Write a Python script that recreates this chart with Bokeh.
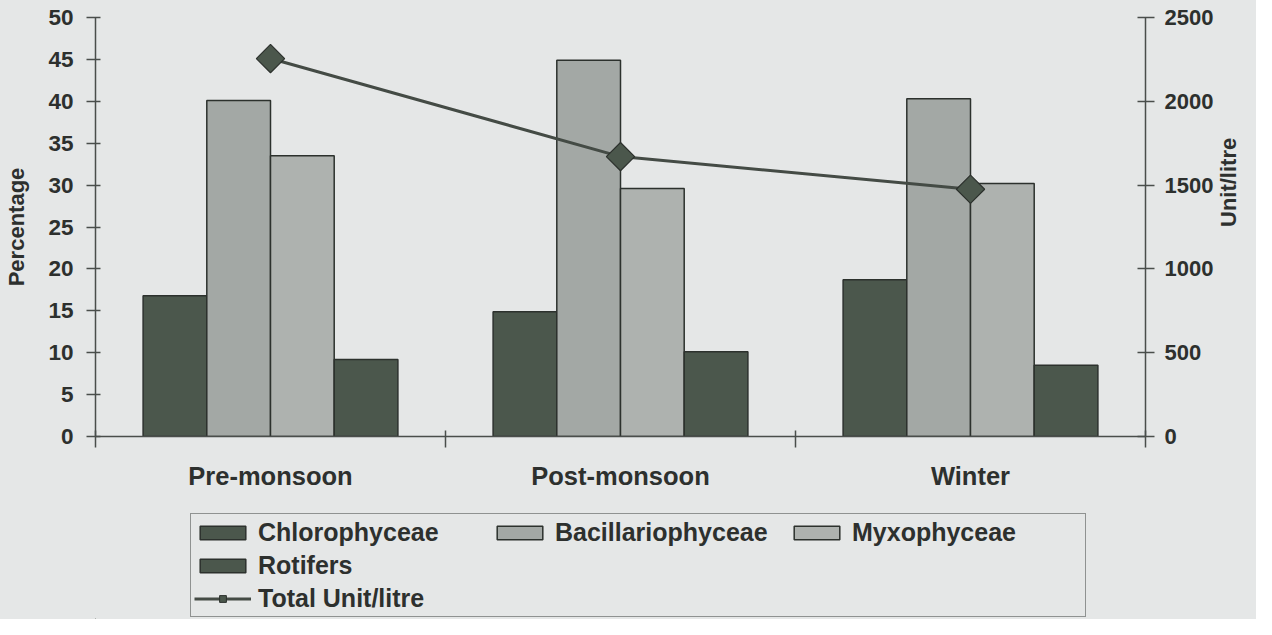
from bokeh.plotting import figure
from bokeh.layouts import column
from bokeh.models import Range1d, LinearAxis, FixedTicker, Legend, LegendItem, ColumnDataSource
from bokeh.transform import dodge
from bokeh.embed import file_html
from bokeh.resources import INLINE
import math

seasons = ["Pre-monsoon", "Post-monsoon", "Winter"]
chlorophyceae = [16.8, 14.9, 18.7]
bacillariophyceae = [40.1, 44.9, 40.3]
myxophyceae = [33.5, 29.6, 30.2]
rotifers = [9.2, 10.1, 8.5]
total_unit_litre = [2255, 1670, 1475]

left_ticks = list(range(0, 51, 5))
right_ticks = list(range(0, 2501, 500))

BG = "#e5e7e7"
TXT = "#2d302e"
AX = "#4a4e4b"
DARK = "#4b574c"
LIGHT1 = "#a3a8a5"
LIGHT2 = "#aeb2af"
EDGE = "#2c312d"
LINE = "#444b45"
FONT = "Liberation Sans"

xc = [i + 0.5 for i in range(len(seasons))]
src = ColumnDataSource(dict(x=xc, c=chlorophyceae, b=bacillariophyceae,
                            m=myxophyceae, r=rotifers, t=total_unit_litre))

p = figure(width=1256, height=505, output_backend="svg", toolbar_location=None,
           x_range=Range1d(0, 3), y_range=Range1d(0, 50),
           min_border_left=95, min_border_right=106, min_border_top=17,
           min_border_bottom=69)
p.extra_y_ranges = {"right": Range1d(0, 2500)}
p.background_fill_color = None
p.border_fill_color = BG
p.outline_line_color = None
p.xgrid.visible = False
p.ygrid.visible = False

bw = 0.182
offs = [-1.5 * bw, -0.5 * bw, 0.5 * bw, 1.5 * bw]
bar_style = dict(line_color=EDGE, line_width=1.5)
p.vbar(x=dodge("x", offs[0]), top="c", width=bw, source=src, fill_color=DARK, **bar_style)
p.vbar(x=dodge("x", offs[1]), top="b", width=bw, source=src, fill_color=LIGHT1, **bar_style)
p.vbar(x=dodge("x", offs[2]), top="m", width=bw, source=src, fill_color=LIGHT2, **bar_style)
p.vbar(x=dodge("x", offs[3]), top="r", width=bw, source=src, fill_color=DARK, **bar_style)
p.line(x="x", y="t", source=src, y_range_name="right", line_color=LINE, line_width=3)
p.scatter(x="x", y="t", source=src, y_range_name="right", marker="square",
          size=20, angle=math.pi / 4, fill_color=DARK, line_color=EDGE, line_width=1.2)

# x axis
xa = p.xaxis[0]
xa.ticker = FixedTicker(ticks=xc, minor_ticks=[0, 1, 2, 3])
xa.major_label_overrides = {v: s for v, s in zip(xc, seasons)}
xa.major_tick_line_color = None
xa.major_tick_in = 0
xa.major_tick_out = 0
xa.minor_tick_in = 6
xa.minor_tick_out = 11
xa.minor_tick_line_color = AX
xa.minor_tick_line_width = 1.5
xa.axis_line_color = AX
xa.axis_line_width = 1.5
xa.major_label_standoff = 14
xa.major_label_text_font = FONT
xa.major_label_text_font_style = "bold"
xa.major_label_text_font_size = "25.5px"
xa.major_label_text_color = TXT

# left axis
ya = p.yaxis[0]
ya.ticker = FixedTicker(ticks=left_ticks)
ya.axis_label = "Percentage"
ya.major_tick_in = 5
ya.major_tick_out = 9
ya.minor_tick_line_color = None
ya.major_tick_line_color = AX
ya.major_tick_line_width = 1.5
ya.axis_line_color = AX
ya.axis_line_width = 1.5
ya.major_label_standoff = 13
ya.axis_label_standoff = 16
ya.major_label_text_font = FONT
ya.major_label_text_font_style = "bold"
ya.major_label_text_font_size = "22.5px"
ya.major_label_text_color = TXT
ya.axis_label_text_font = FONT
ya.axis_label_text_font_style = "bold"
ya.axis_label_text_font_size = "22px"
ya.axis_label_text_color = TXT

ra = LinearAxis(y_range_name="right", ticker=FixedTicker(ticks=right_ticks),
                axis_label="Unit/litre")
ra.major_tick_in = 8
ra.major_tick_out = 9
ra.minor_tick_line_color = None
ra.major_tick_line_color = AX
ra.major_tick_line_width = 1.5
ra.axis_line_color = AX
ra.axis_line_width = 1.5
ra.major_label_standoff = 10
ra.axis_label_standoff = 12
ra.major_label_text_font = FONT
ra.major_label_text_font_style = "bold"
ra.major_label_text_font_size = "22px"
ra.major_label_text_color = TXT
ra.axis_label_text_font = FONT
ra.axis_label_text_font_style = "bold"
ra.axis_label_text_font_size = "22px"
ra.axis_label_text_color = TXT
try:
    ra.axis_label_orientation = math.pi / 2
except Exception:
    pass
p.add_layout(ra, "right")

# legend strip (separate figure below the chart)
lg = figure(width=1256, height=114, output_backend="svg", toolbar_location=None,
            x_range=Range1d(0, 1), y_range=Range1d(0, 1),
            x_axis_type=None, y_axis_type=None,
            min_border_left=0, min_border_right=0, min_border_top=0, min_border_bottom=0)
lg.background_fill_color = None
lg.border_fill_color = BG
lg.outline_line_color = None
lg.xgrid.visible = False
lg.ygrid.visible = False
off = dict(x=[-9], top=[-9])
lc = lg.vbar(width=0.1, fill_color=DARK, **bar_style, **off)
lb = lg.vbar(width=0.1, fill_color=LIGHT1, **bar_style, **off)
lm = lg.vbar(width=0.1, fill_color=LIGHT2, **bar_style, **off)
lr = lg.vbar(width=0.1, fill_color=DARK, **bar_style, **off)
ll = lg.line(x=[-9, -8], y=[-9, -9], line_color=LINE, line_width=3)
ls = lg.scatter(x=[-9], y=[-9], marker="square", size=17, angle=math.pi / 4,
                fill_color=DARK, line_color=EDGE, line_width=1.0)
blank = lg.rect(x=[-9], y=[-9], width=0.01, height=0.01, fill_alpha=0, line_alpha=0)

items = [
    LegendItem(label="Chlorophyceae", renderers=[lc]),
    LegendItem(label="Bacillariophyceae", renderers=[lb]),
    LegendItem(label="Myxophyceae", renderers=[lm]),
    LegendItem(label="Rotifers", renderers=[lr]),
    LegendItem(label=" ", renderers=[blank]),
    LegendItem(label=" ", renderers=[blank]),
    LegendItem(label="Total Unit/litre", renderers=[ll, ls]),
]
leg = Legend(items=items, location=(95, 2), orientation="horizontal", ncols=3,
             label_text_font=FONT, label_text_font_style="bold",
             label_text_font_size="25px", label_text_color=TXT,
             glyph_width=57, glyph_height=17, label_standoff=7,
             label_width=230, label_height=30, spacing=3, padding=3,
             border_line_color="#3a3e3b", border_line_width=1.5,
             background_fill_color=BG, background_fill_alpha=1.0, margin=0)
lg.add_layout(leg)

layout = column(p, lg, spacing=0, styles={"background-color": BG})
open("out.html", "w").write(file_html(layout, INLINE))
